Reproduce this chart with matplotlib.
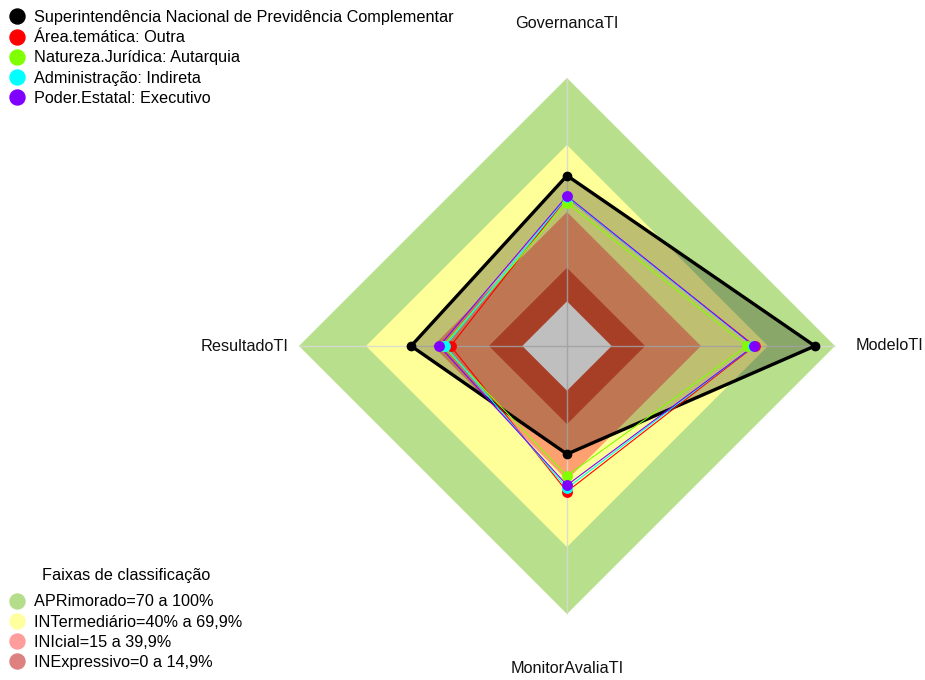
import numpy as np
import matplotlib
matplotlib.use("Agg")
import matplotlib.pyplot as plt
from matplotlib.lines import Line2D
from matplotlib.patches import Polygon

plt.rcParams['font.family'] = ['Liberation Sans', 'DejaVu Sans']

# ---------------- data ----------------
categories = ['GovernancaTI', 'ModeloTI', 'MonitorAvaliaTI', 'ResultadoTI']

series_names = ['Superintendência Nacional de Previdência Complementar',
                'Área.temática: Outra',
                'Natureza.Jurídica: Autarquia',
                'Administração: Indireta',
                'Poder.Estatal: Executivo']
sup_vals = [56.3, 91.0, 28.4, 49.8]
area_vals = [46.5, 64.0, 45.2, 32.1]
natureza_vals = [44.2, 60.5, 38.1, 35.5]
admin_vals = [46.7, 63.5, 43.7, 34.6]
poder_vals = [47.2, 63.7, 42.3, 37.2]
series_colors = ['#000000', '#FF0000', '#80FF00', '#00FFFF', '#8000FF']

band_labels = ['APRimorado=70 a 100%', 'INTermediário=40% a 69,9%',
               'INIcial=15 a 39,9%', 'INExpressivo=0 a 14,9%']
band_upper = [100, 70, 40, 15]
band_chart_colors = ['#B8E08C', '#FFFF99', '#FFA070', '#E05535']
band_legend_colors = ['#B5DE8C', '#FFFFA0', '#FF9C9C', '#DD8080']

# ---------------- geometry ----------------
W, H = 925, 680
R = 268.0
cx, cy = 567.0, 346.0
n = len(categories)
angles = np.pi / 2 - np.arange(n) * 2 * np.pi / n
FS = 11.7


def radius(v):
    return 1.0 / 6.0 + (5.0 / 6.0) * np.asarray(v, dtype=float) / 100.0


def xy(vals):
    r = radius(vals)
    return r * np.cos(angles), r * np.sin(angles)


fig = plt.figure(figsize=(W / 100, H / 100), dpi=100)
ax = fig.add_axes([0, 0, 1, 1])
ax.set_xlim(-cx / R, (W - cx) / R)
ax.set_ylim(-(H - cy) / R, cy / R)
ax.axis('off')

# bands
for up, col in zip(band_upper, band_chart_colors):
    x, y = xy([up] * n)
    ax.add_patch(Polygon(np.column_stack([x, y]), closed=True, facecolor=col,
                         edgecolor='none', zorder=1))
x0, y0 = xy([0] * n)
ax.add_patch(Polygon(np.column_stack([x0, y0]), closed=True, facecolor='white',
                     edgecolor='none', zorder=1))

# axis lines
for a in angles:
    ax.plot([0, np.cos(a)], [0, np.sin(a)], color='#D8D8D8', lw=1.0,
            alpha=0.85, zorder=2, solid_capstyle='butt')

# series
all_vals = [sup_vals, area_vals, natureza_vals, admin_vals, poder_vals]
for i, (vals, col) in enumerate(zip(all_vals, series_colors)):
    x, y = xy(vals)
    xc = np.append(x, x[0])
    yc = np.append(y, y[0])
    if i == 0:
        ax.add_patch(Polygon(np.column_stack([x, y]), closed=True,
                             facecolor=(0, 0, 0, 0.25), edgecolor='none', zorder=3))
        ax.plot(xc, yc, color=col, lw=2.4, zorder=4, solid_joinstyle='miter')
        ax.plot(x, y, 'o', color=col, ms=6, zorder=6)
    else:
        ax.plot(xc, yc, color=col, lw=0.8, zorder=5)
        ax.plot(x, y, 'o', color=col, ms=6.8, zorder=6 + i)

# axis labels
for lab, a in zip(categories, angles):
    ax.text(1.203 * np.cos(a), 1.203 * np.sin(a), lab, ha='center', va='center',
            fontsize=FS, color='#111111')

# legends
h1 = [Line2D([], [], marker='o', linestyle='none', color=c, markersize=10.8)
      for c in series_colors]
leg1 = fig.legend(h1, series_names, loc='upper left',
                  bbox_to_anchor=(9.5 / W, 1 - 10 / H), frameon=False,
                  fontsize=FS, handlelength=0.93, handletextpad=0.58,
                  labelspacing=0.32, borderpad=0, borderaxespad=0)

h2 = [Line2D([], [], marker='o', linestyle='none', color=c, markersize=10.8)
      for c in band_legend_colors]
leg2 = fig.legend(h2, band_labels, loc='lower left',
                  bbox_to_anchor=(9.5 / W, 10 / H), frameon=False,
                  fontsize=FS, handlelength=0.93, handletextpad=0.58,
                  labelspacing=0.32, borderpad=0, borderaxespad=0,
                  title='Faixas de classificação', title_fontsize=FS)
leg2._legend_box.sep = 8

fig.savefig('out.png', dpi=100)
